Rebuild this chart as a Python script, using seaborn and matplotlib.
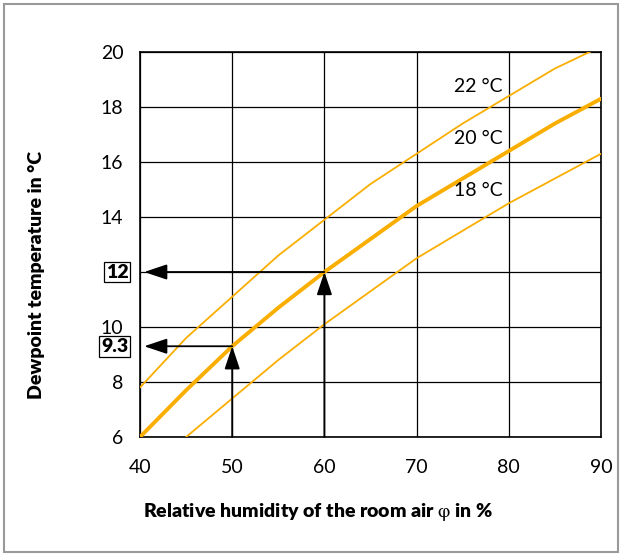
import numpy as np
import pandas as pd
import matplotlib
matplotlib.use("Agg")
import matplotlib.pyplot as plt
from matplotlib.patches import Rectangle
import seaborn as sns

# dewpoint curves (relative humidity % -> dewpoint °C)
rh_22 = [40, 45, 50, 55, 60, 65, 70, 75, 80, 85, 90]
dp_22 = [7.8, 9.6, 11.1, 12.6, 13.9, 15.2, 16.3, 17.4, 18.4, 19.4, 20.2]
rh_20 = [40, 45, 50, 55, 60, 65, 70, 75, 80, 85, 90]
dp_20 = [6.0, 7.7, 9.3, 10.7, 12.0, 13.2, 14.4, 15.4, 16.4, 17.4, 18.3]
rh_18 = [45, 50, 55, 60, 65, 70, 75, 80, 85, 90]
dp_18 = [6.0, 7.4, 8.8, 10.1, 11.3, 12.5, 13.5, 14.5, 15.4, 16.3]

curve_labels = ["22 °C", "20 °C", "18 °C"]
label_y = [18.76, 16.87, 14.98]

x_ticks = [40, 50, 60, 70, 80, 90]
y_ticks = [6, 8, 10, 12, 14, 16, 18, 20]

# worked examples: 50 % -> 9.3 °C, 60 % -> 12 °C
ex_rh = [50, 60]
ex_dp = [9.3, 12.0]
ex_labels = ["9.3", "12"]

sns.set_style("white")
plt.rcParams["font.family"] = ["Lato", "DejaVu Sans"]
plt.rcParams["mathtext.fontset"] = "stix"
plt.rcParams["text.color"] = "black"
plt.rcParams["axes.labelcolor"] = "black"

orange = "#F9AE00"

fig = plt.figure(figsize=(6.22, 5.54), dpi=100)
ax = fig.add_axes([0.2251, 0.2112, 0.7411, 0.6949])

df22 = pd.DataFrame({"rh": rh_22, "dp": dp_22})
df20 = pd.DataFrame({"rh": rh_20, "dp": dp_20})
df18 = pd.DataFrame({"rh": rh_18, "dp": dp_18})
sns.lineplot(data=df22, x="rh", y="dp", ax=ax, color=orange, lw=1.3, zorder=3)
sns.lineplot(data=df20, x="rh", y="dp", ax=ax, color=orange, lw=2.8, zorder=3)
sns.lineplot(data=df18, x="rh", y="dp", ax=ax, color=orange, lw=1.3, zorder=3)

ax.set_xlim(40, 90)
ax.set_ylim(6, 20)
ax.set_xticks(x_ticks)
ax.set_yticks(y_ticks)
ax.set_yticklabels(["" if v == 12 else str(v) for v in y_ticks])
ax.tick_params(axis="both", length=0, labelsize=14, colors="black")
ax.tick_params(axis="x", pad=16)
ax.tick_params(axis="y", pad=12)
ax.grid(True, color="black", lw=0.9)
ax.set_axisbelow(True)
for s in ax.spines.values():
    s.set_visible(True)
    s.set_color("black")
    s.set_linewidth(1.2)

ax.set_xlabel("Relative humidity of the room air $\\mathrm{\\varphi}$ in %",
              fontsize=14, fontweight="heavy", labelpad=18)
ax.xaxis.label.set_horizontalalignment("left")
ax.xaxis.label.set_x(0.006)
ax.set_ylabel("Dewpoint temperature in °C", fontsize=14, fontweight="heavy", labelpad=40)
ax.yaxis.label.set_y(0.42)

for lab, yy in zip(curve_labels, label_y):
    ax.text(79.3, yy, lab, ha="right", va="center", fontsize=14)

# arrows
aprops = dict(arrowstyle="-|>,head_length=1.4,head_width=0.47", color="black",
              lw=1.3, mutation_scale=10, shrinkA=0, shrinkB=0)
for r, d, lab in zip(ex_rh, ex_dp, ex_labels):
    ax.annotate("", xy=(r, d), xytext=(r, 6), arrowprops=aprops, zorder=5)
    ax.annotate("", xy=(40.45, d), xytext=(r, d), arrowprops=aprops, zorder=5)
    ax.text(-0.025, d, lab, transform=ax.get_yaxis_transform(),
            ha="right", va="center", fontsize=14, fontweight="heavy",
            bbox=dict(boxstyle="square,pad=0.1", fc="white", ec="black", lw=0.9))

fig.patches.append(Rectangle((4 / 622, 2 / 554), 614 / 622, 548 / 554,
                             transform=fig.transFigure, fill=False,
                             ec="#999999", lw=1.5))

fig.savefig("out.png", dpi=100)
